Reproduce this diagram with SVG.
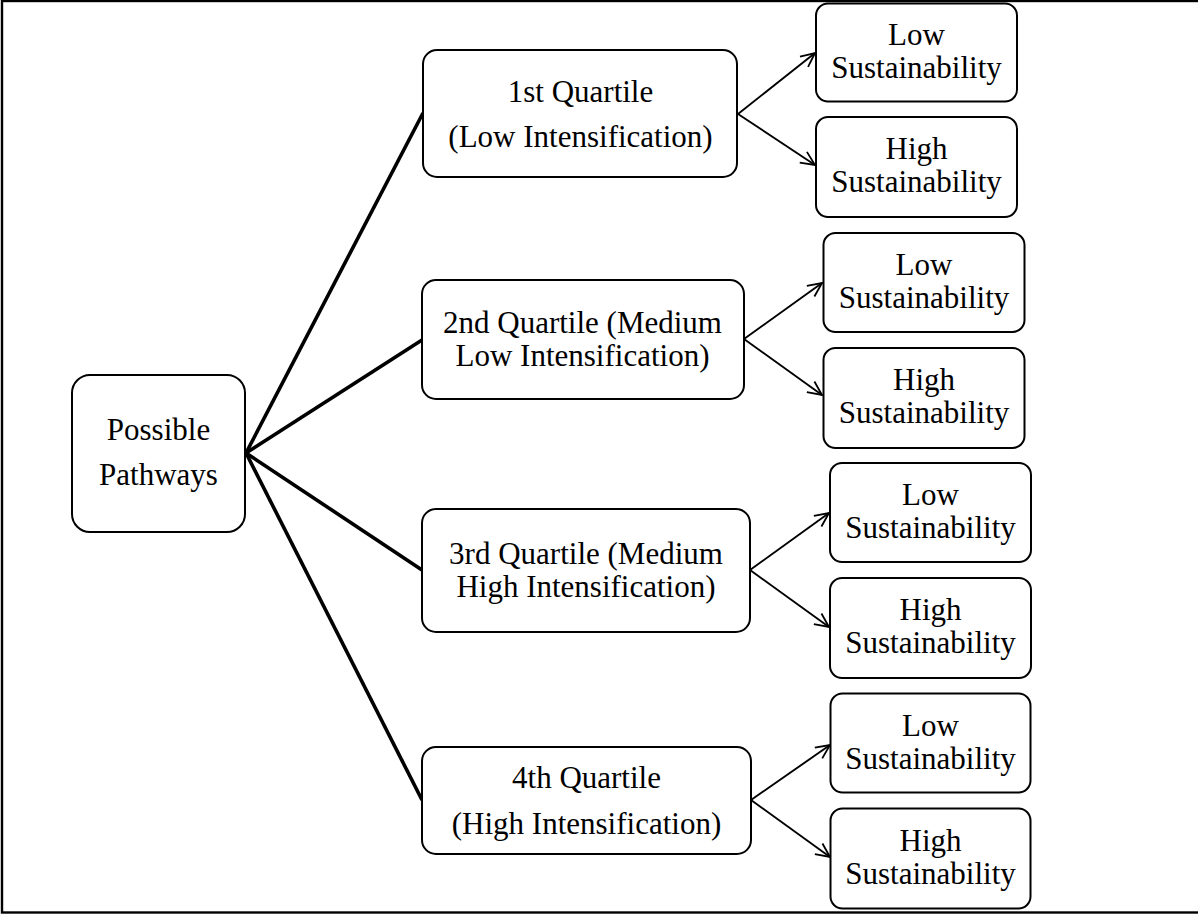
<svg xmlns="http://www.w3.org/2000/svg" width="1198" height="915" viewBox="0 0 1198 915">
<defs>
<marker id="arr" viewBox="0 0 16 16" refX="15" refY="8" markerWidth="16" markerHeight="16" markerUnits="userSpaceOnUse" orient="auto">
<path d="M1,1.5 L15,8 L1,14.5" fill="none" stroke="#000" stroke-width="1.8"/>
</marker>
<style>
.box{fill:#fff;stroke:#000;stroke-width:2}
.t{font-family:"Liberation Serif","Times New Roman",serif;font-size:31px;fill:#000;text-anchor:middle}
.thick{stroke:#000;stroke-width:3.6;fill:none}
.thin{stroke:#000;stroke-width:1.9;fill:none;marker-end:url(#arr)}
</style>
</defs>
<rect x="0" y="0" width="1198" height="915" fill="#fff"/>
<rect x="2" y="1" width="1210" height="911.5" fill="none" stroke="#000" stroke-width="2.4"/>
<g id="connectors">
<line class="thick" x1="246" y1="453" x2="423" y2="113"/>
<line class="thick" x1="246" y1="453" x2="422" y2="340"/>
<line class="thick" x1="246" y1="453" x2="422" y2="570"/>
<line class="thick" x1="246" y1="453" x2="422" y2="800"/>
<line class="thin" x1="738" y1="114" x2="815" y2="53"/>
<line class="thin" x1="738" y1="114" x2="815" y2="165"/>
<line class="thin" x1="744" y1="339" x2="822" y2="283"/>
<line class="thin" x1="744" y1="339" x2="822" y2="395"/>
<line class="thin" x1="750" y1="570" x2="829" y2="513"/>
<line class="thin" x1="750" y1="570" x2="829" y2="627"/>
<line class="thin" x1="751" y1="800" x2="830" y2="745"/>
<line class="thin" x1="751" y1="800" x2="830" y2="857"/>
</g>
<g id="root">
<rect class="box" x="72" y="375" width="173" height="157" rx="18"/>
<text class="t" x="158.5" y="440">Possible</text>
<text class="t" x="158.5" y="485">Pathways</text>
</g>
<g id="q1">
<rect class="box" x="423" y="50" width="314" height="127" rx="14"/>
<text class="t" x="580.5" y="101.5">1st Quartile</text>
<text class="t" x="580.5" y="146.5">(Low Intensification)</text>
</g>
<g id="q2">
<rect class="box" x="422" y="280" width="322" height="119" rx="14"/>
<text class="t" x="582.5" y="333">2nd Quartile (Medium</text>
<text class="t" x="582.5" y="366">Low Intensification)</text>
</g>
<g id="q3">
<rect class="box" x="422" y="509" width="328" height="123" rx="14"/>
<text class="t" x="586" y="564">3rd Quartile (Medium</text>
<text class="t" x="586" y="597">High Intensification)</text>
</g>
<g id="q4">
<rect class="box" x="422" y="747" width="329" height="107" rx="14"/>
<text class="t" x="586.5" y="788">4th Quartile</text>
<text class="t" x="586.5" y="834">(High Intensification)</text>
</g>
<g id="q1-low">
<rect class="box" x="816" y="3.5" width="201" height="98" rx="12"/>
<text class="t" x="916.5" y="45">Low</text>
<text class="t" x="916.5" y="77.5">Sustainability</text>
</g>
<g id="q1-high">
<rect class="box" x="816" y="117" width="201" height="100" rx="12"/>
<text class="t" x="916.5" y="158.5">High</text>
<text class="t" x="916.5" y="191.5">Sustainability</text>
</g>
<g id="q2-low">
<rect class="box" x="823.5" y="233" width="201" height="99" rx="12"/>
<text class="t" x="924" y="275">Low</text>
<text class="t" x="924" y="308">Sustainability</text>
</g>
<g id="q2-high">
<rect class="box" x="823.5" y="348" width="201" height="100" rx="12"/>
<text class="t" x="924" y="390">High</text>
<text class="t" x="924" y="423">Sustainability</text>
</g>
<g id="q3-low">
<rect class="box" x="830" y="463" width="201" height="99" rx="12"/>
<text class="t" x="930.5" y="505">Low</text>
<text class="t" x="930.5" y="538">Sustainability</text>
</g>
<g id="q3-high">
<rect class="box" x="830" y="578" width="201" height="100" rx="12"/>
<text class="t" x="930.5" y="620">High</text>
<text class="t" x="930.5" y="653">Sustainability</text>
</g>
<g id="q4-low">
<rect class="box" x="830.5" y="693.5" width="200" height="99" rx="12"/>
<text class="t" x="930.5" y="735.5">Low</text>
<text class="t" x="930.5" y="768.5">Sustainability</text>
</g>
<g id="q4-high">
<rect class="box" x="830.5" y="808.5" width="200" height="100" rx="12"/>
<text class="t" x="930.5" y="850.5">High</text>
<text class="t" x="930.5" y="883.5">Sustainability</text>
</g>
</svg>
